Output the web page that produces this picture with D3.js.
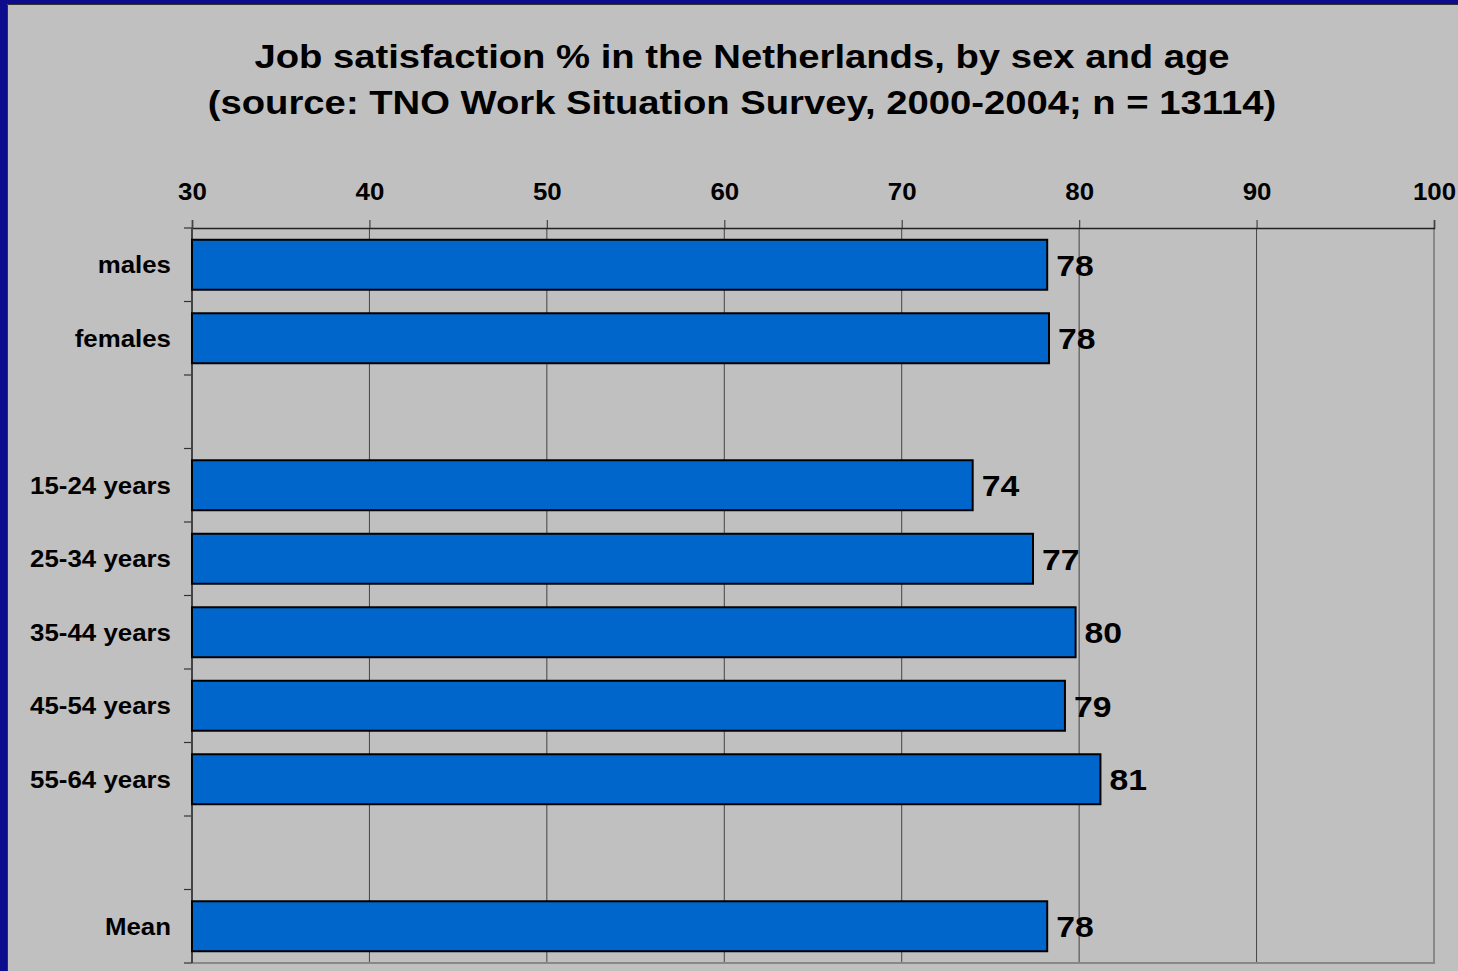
<!DOCTYPE html>
<html>
<head>
<meta charset="utf-8">
<script src="https://cdn.jsdelivr.net/npm/d3@7"></script>
<style>
  html, body { margin: 0; padding: 0; background: #0c0c8c; }
  svg { display: block; }
  text { font-family: "Liberation Sans", Arial, sans-serif; font-weight: bold; fill: #000; }
</style>
</head>
<body>
<svg id="chart" width="1458" height="971"></svg>
<script>
// Category rows, top to bottom (empty strings are spacer rows)
const categories = ["males", "females", "", "15-24 years", "25-34 years", "35-44 years", "45-54 years", "55-64 years", "", "Mean"];
// Job satisfaction percentage per row (null for spacer rows)
const satisfaction = [78.2, 78.3, null, 74.0, 77.4, 79.8, 79.2, 81.2, null, 78.2];
// Axis ticks
const xTicks = [30, 40, 50, 60, 70, 80, 90, 100];
const titleLines = [
  "Job satisfaction % in the Netherlands, by sex and age",
  "(source: TNO Work Situation Survey, 2000-2004; n = 13114)"
];

const W = 1458, H = 971;
const STRETCH = 1.125;   // slightly wide lettering
const svg = d3.select("#chart");

// Slide background with dark blue frame on the top and left
svg.append("rect").attr("width", W).attr("height", H).attr("fill", "#0c0c8c");
svg.append("rect").attr("x", 7).attr("y", 4).attr("width", W - 7).attr("height", H - 4)
  .attr("fill", "#c0c0c0");
svg.append("path").attr("d", `M7.5,${H} V4.5 H${W}`).attr("fill", "none")
  .attr("stroke", "#333").attr("stroke-width", 1);

// Title
svg.append("g").selectAll("text").data(titleLines).join("text")
  .attr("transform", (d, i) => `translate(742,${68 + i * 46}) scale(${STRETCH},1)`)
  .attr("text-anchor", "middle").attr("font-size", 34)
  .text(d => d);

const plotLeft = 192, plotRight = 1434, plotTop = 228, plotBottom = 963;

const x = d3.scaleLinear().domain([30, 100]).range([plotLeft, plotRight]);
const y = d3.scaleBand().domain(d3.range(categories.length))
  .range([plotTop, plotBottom]).paddingInner(0.32).paddingOuter(0.16);

// Vertical gridlines
svg.append("g").selectAll("line").data(xTicks.slice(1, -1)).join("line")
  .attr("x1", d => x(d)).attr("x2", d => x(d))
  .attr("y1", plotTop).attr("y2", plotBottom)
  .attr("stroke", "#444").attr("stroke-width", 1);

// Right and bottom edges of the plot area
svg.append("path")
  .attr("d", `M${plotRight},${plotTop} V${plotBottom} H${plotLeft}`)
  .attr("fill", "none").attr("stroke", "#888").attr("stroke-width", 2);

// Top value axis
const xAxis = svg.append("g").attr("transform", `translate(0,${plotTop})`)
  .call(d3.axisTop(x).tickValues(xTicks).tickSize(8).tickPadding(20).tickFormat(d3.format("d")));
xAxis.select(".domain").attr("stroke", "#222").attr("stroke-width", 1.5);
xAxis.selectAll(".tick line").attr("stroke", "#444").attr("stroke-width", 1.2);
xAxis.selectAll(".tick text").attr("font-size", 23).attr("fill", "#000")
  .attr("font-family", "'Liberation Sans', Arial, sans-serif").attr("font-weight", "bold")
  .attr("transform", `scale(${STRETCH},1)`);

// Left category axis: ticks at row boundaries, labels centred on rows
const step = y.step();
const boundaries = d3.range(categories.length + 1).map(i => plotTop + i * step);
svg.append("g").selectAll("line").data(boundaries).join("line")
  .attr("x1", plotLeft - 8).attr("x2", plotLeft)
  .attr("y1", d => d).attr("y2", d => d)
  .attr("stroke", "#333").attr("stroke-width", 1.2);
svg.append("line").attr("x1", plotLeft).attr("x2", plotLeft).attr("y1", plotTop).attr("y2", plotBottom)
  .attr("stroke", "#444").attr("stroke-width", 2);
svg.append("g").selectAll("text").data(categories).join("text")
  .attr("transform", (d, i) => `translate(171,${y(i) + y.bandwidth() / 2}) scale(${STRETCH},1)`)
  .attr("dy", "0.36em")
  .attr("text-anchor", "end").attr("font-size", 23)
  .text(d => d);

// Bars
const rows = satisfaction.map((v, i) => ({ i, v })).filter(d => d.v !== null);
svg.append("g").selectAll("rect").data(rows).join("rect")
  .attr("x", x(30))
  .attr("y", d => y(d.i))
  .attr("width", d => x(d.v) - x(30))
  .attr("height", y.bandwidth())
  .attr("fill", "#0066cc")
  .attr("stroke", "#000").attr("stroke-width", 2);

// Value labels
svg.append("g").selectAll("text").data(rows).join("text")
  .attr("transform", d => `translate(${x(d.v) + 9},${y(d.i) + y.bandwidth() / 2}) scale(${STRETCH},1)`)
  .attr("dy", "0.36em")
  .attr("font-size", 30)
  .text(d => d3.format(".0f")(d.v));
</script>
</body>
</html>
